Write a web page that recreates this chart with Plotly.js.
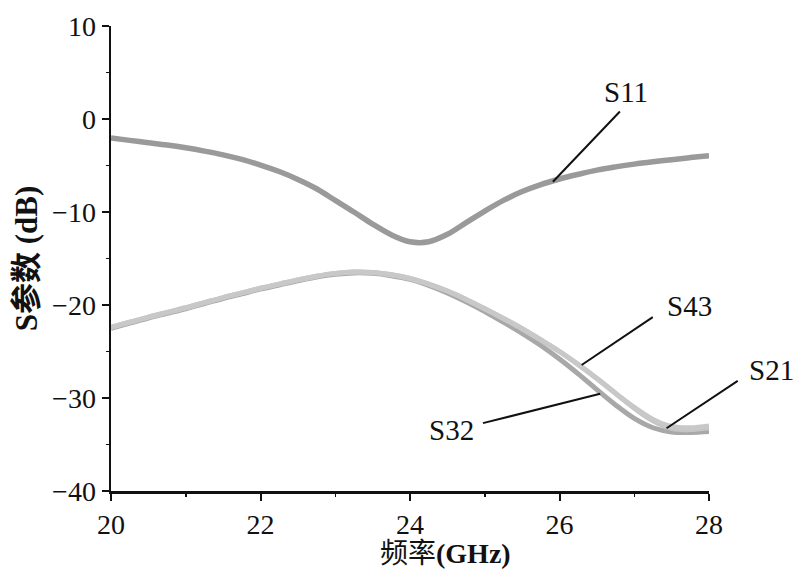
<!DOCTYPE html>
<html>
<head>
<meta charset="utf-8">
<script src="https://cdn.plot.ly/plotly-3.0.1.min.js"></script>
<style>html,body{margin:0;padding:0;background:#fff;}#chart{width:806px;height:578px;}</style>
</head>
<body>
<div id="chart"></div>
<script>
const freq = [20, 20.25, 20.5, 20.75, 21, 21.25, 21.5, 21.75, 22, 22.25, 22.5, 22.75, 23, 23.25, 23.5, 23.75, 24, 24.25, 24.5, 24.75, 25, 25.25, 25.5, 25.75, 26, 26.25, 26.5, 26.75, 27, 27.25, 27.5, 27.75, 28];
const s11 = [-2.05, -2.3, -2.55, -2.8, -3.1, -3.45, -3.85, -4.35, -4.95, -5.65, -6.5, -7.5, -8.75, -10.0, -11.3, -12.45, -13.2, -13.2, -12.4, -11.15, -9.9, -8.75, -7.8, -7.05, -6.45, -5.95, -5.5, -5.15, -4.85, -4.6, -4.38, -4.15, -3.95];
const s43 = [-22.4, -21.85, -21.3, -20.8, -20.3, -19.75, -19.2, -18.7, -18.2, -17.75, -17.3, -16.9, -16.6, -16.45, -16.5, -16.75, -17.15, -17.75, -18.5, -19.4, -20.4, -21.45, -22.55, -23.75, -25.0, -26.4, -27.9, -29.5, -31.0, -32.3, -33.05, -33.2, -33.0];
const s21 = [-22.4, -21.85, -21.3, -20.8, -20.3, -19.75, -19.2, -18.7, -18.2, -17.75, -17.3, -16.9, -16.6, -16.45, -16.5, -16.75, -17.15, -17.75, -18.5, -19.4, -20.4, -21.45, -22.55, -23.75, -25.0, -26.4, -27.9, -29.5, -31.1, -32.45, -33.25, -33.4, -33.2];
const s32 = [-22.5, -21.95, -21.4, -20.9, -20.4, -19.85, -19.3, -18.8, -18.3, -17.85, -17.4, -17.0, -16.7, -16.55, -16.6, -16.85, -17.25, -17.9, -18.7, -19.65, -20.7, -21.85, -23.05, -24.35, -25.8, -27.4, -29.1, -30.75, -32.2, -33.2, -33.65, -33.7, -33.6];
const seriesNames = ['S11', 'S32', 'S21', 'S43'];
const xTicks = [20, 22, 24, 26, 28];
const yTicks = [-40, -30, -20, -10, 0, 10];

const serif = 'Liberation Serif, Times New Roman, serif';
const cjk = 'Liberation Serif, Noto Sans CJK SC, serif';

const traces = [
  {x: freq, y: s32, name: seriesNames[1], mode: 'lines', line: {color: '#a8a8a8', width: 5, shape: 'spline', smoothing: 1}},
  {x: freq, y: s21, name: seriesNames[2], mode: 'lines', line: {color: '#c4c4c4', width: 5, shape: 'spline', smoothing: 1}},
  {x: freq, y: s43, name: seriesNames[3], mode: 'lines', line: {color: '#c8c8c8', width: 5, shape: 'spline', smoothing: 1}},
  {x: freq, y: s11, name: seriesNames[0], mode: 'lines', line: {color: '#9a9a9a', width: 5.5, shape: 'spline', smoothing: 1}}
];

// label positions (paper coords) and pointer lines
const labels = [
  {text: 'S11', x: 0.861, y: 0.858, line: [0.851, 0.816, 0.739, 0.665]},
  {text: 'S43', x: 0.967, y: 0.398, line: [0.906, 0.374, 0.787, 0.271]},
  {text: 'S21', x: 1.104, y: 0.260, line: [1.048, 0.237, 0.929, 0.135]},
  {text: 'S32', x: 0.570, y: 0.131, line: [0.622, 0.146, 0.818, 0.209]}
];

const annotations = labels.map(l => ({
  text: l.text, xref: 'paper', yref: 'paper', x: l.x, y: l.y,
  xanchor: 'center', yanchor: 'middle', showarrow: false,
  font: {family: serif, size: 29, color: '#111'}
}));
annotations.push({
  text: '频率<b>(GHz)</b>', xref: 'paper', yref: 'paper', x: 0.560, y: -0.134,
  xanchor: 'center', yanchor: 'middle', showarrow: false,
  font: {family: cjk, size: 28, color: '#111'}
});

const shapes = labels.map(l => ({
  type: 'line', xref: 'paper', yref: 'paper',
  x0: l.line[0], y0: l.line[1], x1: l.line[2], y1: l.line[3],
  line: {color: '#111', width: 2}
}));

const layout = {
  width: 806, height: 578,
  margin: {l: 111, r: 97, t: 26, b: 87},
  paper_bgcolor: '#fff', plot_bgcolor: '#fff',
  showlegend: false,
  font: {family: serif},
  xaxis: {
    range: [20, 28], tickvals: xTicks, ticktext: xTicks.map(String),
    showgrid: false, zeroline: false, showline: true, linecolor: '#111', linewidth: 2.5,
    ticks: 'outside', ticklen: 7, tickwidth: 2, tickcolor: '#111',
    minor: {dtick: 1, tick0: 20, ticks: 'outside', ticklen: 3, tickwidth: 1.5, tickcolor: '#111', showgrid: false},
    tickfont: {family: serif, size: 28, color: '#111'}
  },
  yaxis: {
    range: [-40, 10], tickvals: yTicks, ticktext: yTicks.map(v => v < 0 ? '\u2212' + Math.abs(v) : String(v)),
    showgrid: false, zeroline: false, showline: true, linecolor: '#111', linewidth: 2.5,
    ticks: 'outside', ticklen: 7, tickwidth: 2, tickcolor: '#111',
    minor: {dtick: 5, tick0: -40, ticks: 'outside', ticklen: 3, tickwidth: 1.5, tickcolor: '#111', showgrid: false},
    tickfont: {family: serif, size: 28, color: '#111'},
    title: {text: '<b>S参数 (dB)</b>', font: {family: cjk, size: 31, color: '#111'}, standoff: 6}
  },
  annotations: annotations,
  shapes: shapes
};

Plotly.newPlot('chart', traces, layout, {displayModeBar: false, staticPlot: true});
</script>
</body>
</html>
